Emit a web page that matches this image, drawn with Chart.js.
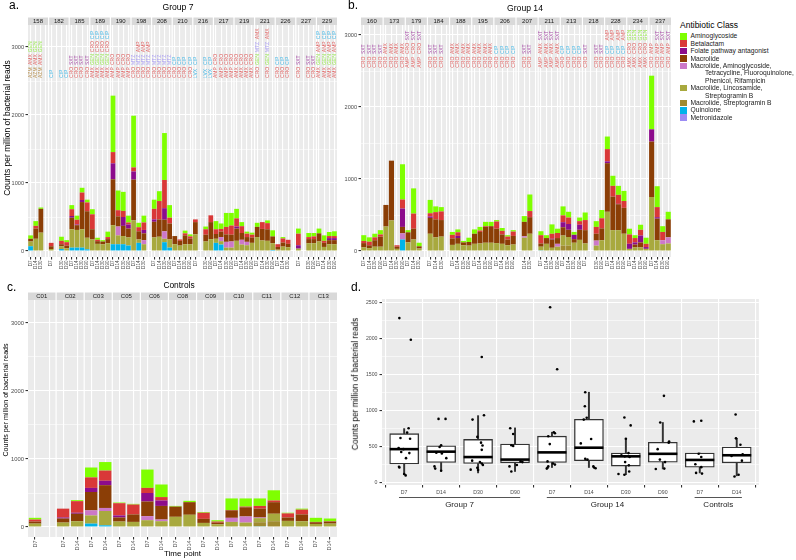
<!DOCTYPE html>
<html>
<head>
<meta charset="utf-8">
<script src="https://cdn.jsdelivr.net/npm/chart.js@4.4.1/dist/chart.umd.min.js"></script>
<style>
body{margin:0;background:#fff;font-family:"Liberation Sans",Arial,sans-serif;}
#wrap{position:relative;width:796px;height:560px;overflow:hidden;}
canvas{position:absolute;}
.t{position:absolute;white-space:nowrap;color:#000;line-height:1;}
.c{transform:translate(-50%,-50%);}
.r{transform:translate(-50%,-50%) rotate(-90deg);}
.lm{transform:translateY(-50%);color:#1a1a1a;}
.key{position:absolute;width:6.5px;height:6.5px;}
</style>
</head>
<body>
<div id="wrap">
  <canvas id="ca" width="342" height="275" style="left:0;top:0"></canvas>
  <canvas id="cb" width="341" height="275" style="left:335px;top:0"></canvas>
  <canvas id="cc" width="342" height="285" style="left:0;top:275px"></canvas>
  <canvas id="cd" width="429" height="238" style="left:347px;top:275px"></canvas>

  <div class="t" style="left:9px;top:-1px;font-size:12px">a.</div>
  <div class="t" style="left:348px;top:-1px;font-size:12px">b.</div>
  <div class="t" style="left:7px;top:281px;font-size:12px">c.</div>
  <div class="t" style="left:351px;top:281px;font-size:12px">d.</div>

  <div class="t c" style="left:178px;top:7px;font-size:8.6px">Group 7</div>
  <div class="t c" style="left:525px;top:8px;font-size:8.6px">Group 14</div>
  <div class="t c" style="left:179px;top:285px;font-size:8.4px">Controls</div>

  <div class="t r" style="left:7px;top:128px;font-size:8.5px">Counts per million of bacterial reads</div>
  <div class="t r" style="left:7px;top:400px;font-size:7.1px">Counts per million of bacterial reads</div>
  <div class="t r" style="left:355px;top:384px;font-size:8.3px">Counts per million of bacterial reads</div>

  <div class="t lm" style="left:680px;top:24.5px;font-size:8.5px;color:#000">Antibiotic Class</div>
  <div id="legend"></div>
</div>
<script>
Chart.defaults.font.family = '"Liberation Sans", Arial, sans-serif';

// antibiotic classes, legend order (top of each stack first)
const classKeys = ['ag', 'bl', 'fol', 'mac', 'mat', 'mlsb', 'msb', 'qui', 'mtz'];
const classNames = ['Aminoglycoside', 'Betalactam', 'Folate pathway antagonist', 'Macrolide',
  'Macrolide, Aminoglycoside,\nTetracycline, Fluoroquinolone,\nPhenicol, Rifampicin',
  'Macrolide, Lincosamide,\nStreptogramin B', 'Macrolide, Streptogramin B', 'Quinolone', 'Metronidazole'];
const classColors = ['#7fff00', '#d93838', '#8c0c8c', '#8b3e06', '#cc78c8', '#a8a93e', '#a08a30', '#00b4ea', '#9b8cf4'];
const noteColors = { bl: '#e06666', ag: '#95e84a', fol: '#a64ca6', qui: '#45b8e6', mtz: '#a89cf2', msb: '#b89050' };

const timepoints = ['D7', 'D14', 'D30', 'D90'];
const ctrlTimepoints = ['D7', 'D14'];

// ---------- a. Group 7 (per subject: D7, D14, D30, D90) ----------
const aSubjects = ['158','182','185','189','190','198','208','210','216','217','219','221','226','227','229'];
const aAmino  = [[50,70,20,0],[0,0,60,30],[60,60,70,40],[75,30,20,80],[830,290,280,100],[760,65,100,0],[135,145,690,185],[0,0,40,30],[0,0,40,0],[120,80,205,185],[140,60,30,30],[60,0,40,90],[0,20,0,0],[75,0,60,50],[70,80,60,70]];
const aBeta   = [[0,40,0,0],[50,0,50,50],[100,70,110,130],[220,20,0,30],[165,90,90,30],[60,60,110,0],[155,270,415,85],[0,20,30,30],[40,0,80,100],[70,40,110,135],[120,100,50,40],[0,100,90,0],[40,60,60,0],[170,0,30,40],[0,30,30,30]];
const aFolate = [[0,0,0,0],[0,0,0,0],[25,10,30,0],[0,0,0,0],[235,0,130,60],[120,0,50,0],[35,0,170,0],[0,0,0,0],[0,0,0,0],[0,0,0,0],[30,0,0,0],[0,0,0,0],[0,0,0,0],[50,0,0,0],[0,0,30,30]];
const aMacro  = [[40,150,350,0],[40,0,30,40],[170,70,400,390],[150,40,40,60],[675,150,150,130],[600,120,100,0],[230,255,170,235],[120,70,130,85],[180,0,100,250],[70,80,110,100],[180,100,70,80],[150,170,170,100],[40,60,50,0],[0,0,60,60],[120,60,60,60]];
const aMulti  = [[0,0,0,0],[0,0,0,0],[0,0,0,0],[0,0,0,0],[0,130,0,0],[0,0,60,0],[0,0,110,0],[0,0,0,0],[0,0,0,0],[0,60,85,90],[0,70,50,0],[0,0,0,0],[0,0,0,0],[0,0,0,0],[0,0,0,0]];
const aMlsb   = [[70,180,270,0],[30,0,40,40],[270,260,270,170],[170,105,100,115],[280,130,120,120],[450,50,100,0],[200,210,50,120],[100,80,100,100],[245,0,140,175],[60,50,50,50],[150,95,85,120],[205,155,150,100],[20,65,55,0],[35,0,115,115],[140,60,100,100]];
const aQuin   = [[70,0,0,0],[0,0,30,0],[50,50,50,25],[0,0,0,0],[100,100,100,80],[0,120,0,0],[0,0,130,50],[0,0,0,0],[0,0,0,0],[120,95,0,0],[0,0,0,0],[0,0,0,15],[0,0,0,0],[0,0,0,0],[0,0,0,0]];
// antibiotics given: [subject, drug, class, samples]
const aNotes = [
  ['158','AZM','msb',[0,1,2]], ['158','AMX','bl',[0,1,2]], ['158','GEN','ag',[0,1,2]],
  ['182','CIP','qui',[0,2,3]],
  ['185','CRO','bl',[0,1,2,3]], ['185','SXT','fol',[0,1,2,3]],
  ['189','AMX','bl',[0,1,2,3]], ['189','GEN','ag',[0,1,2,3]], ['189','CRO','bl',[0,1,2,3]], ['189','CIP','qui',[0,1,2,3]],
  ['190','AMP','bl',[0,1,2,3]], ['190','CRO','bl',[0,1,2,3]],
  ['198','CRO','bl',[0,1,2,3]], ['198','MTZ','mtz',[0,1,2,3]], ['198','AMP','bl',[1,2,3]],
  ['208','CRO','bl',[0,1,2,3]], ['208','MTZ','mtz',[0,1,2,3]],
  ['210','CRO','bl',[0,1,2,3]], ['210','CIP','qui',[0,1,2,3]],
  ['216','LVX','qui',[0,2,3]], ['216','CIP','qui',[0,2,3]],
  ['217','AMP','bl',[0,1,2,3]], ['217','CRO','bl',[0,1,2,3]],
  ['219','AMX','bl',[0,1,2,3]], ['219','CRO','bl',[0,1,2,3]],
  ['221','CRO','bl',[0,2]], ['221','GEN','ag',[0,2]], ['221','MTZ','mtz',[0,2]], ['221','AMX','bl',[0,2]],
  ['226','CRO','bl',[0,1,2]], ['226','CIP','qui',[0,1,2]],
  ['227','CRO','bl',[0,2,3]], ['227','SXT','fol',[0,2,3]],
  ['229','AMX','bl',[0,1,2,3]], ['229','GEN','ag',[0,1,2,3]], ['229','AMP','bl',[0,1,2,3]], ['229','CIP','qui',[0,1,2,3]]
];

// ---------- b. Group 14 ----------
const bSubjects = ['160','173','179','184','188','195','206','207','211','213','218','228','234','237'];
const bAmino  = [[80,60,50,60],[0,0,0,490],[30,350,50,0],[185,80,60,0],[40,40,20,60],[60,50,60,60],[20,40,20,20],[0,80,230,0],[55,40,130,60],[125,80,40,50],[105,0,80,115],[175,140,125,140],[80,40,70,85],[745,290,80,105]];
const bBeta   = [[30,50,40,30],[0,0,20,125],[0,210,0,0],[45,100,120,0],[50,50,0,0],[0,20,10,0],[100,50,40,60],[0,0,85,0],[115,0,70,70],[95,90,0,50],[140,0,95,140],[170,150,125,95],[130,60,80,45],[0,140,115,0]];
const bFolate = [[0,0,0,0],[0,0,0,255],[0,0,0,0],[20,0,0,0],[0,30,0,0],[0,0,0,0],[0,0,0,0],[0,0,0,0],[0,0,10,0],[70,80,60,70],[0,0,0,0],[25,0,5,0],[70,30,95,25],[170,20,0,0]];
const bMacro  = [[60,40,90,140],[300,830,30,90],[140,150,30,0],[220,250,230,0],[90,80,40,50],[140,160,220,230],[200,130,80,120],[0,200,230,0],[45,80,115,80],[115,100,50,140],[185,0,95,165],[675,465,360,360],[0,40,70,0],[770,300,0,250]];
const bMulti  = [[0,0,0,0],[0,0,0,85],[0,0,0,0],[0,0,0,0],[0,0,0,0],[0,0,0,0],[0,0,0,0],[0,20,0,0],[0,0,0,40],[0,0,0,0],[0,0,70,0],[0,0,0,0],[0,0,0,0],[0,0,55,85]];
const bMlsb   = [[50,40,60,60],[340,425,30,0],[120,160,35,0],[240,190,200,0],[85,100,80,75],[100,105,115,115],[110,100,80,90],[0,185,240,0],[50,100,45,60],[140,120,115,155],[105,0,75,150],[545,290,290,240],[30,50,50,30],[750,150,95,105]];
const bMsb    = [[0,0,0,0],[0,0,0,0],[0,0,0,0],[0,0,0,0],[0,0,0,0],[0,0,0,0],[0,0,0,0],[0,0,0,0],[0,0,0,0],[75,75,0,0],[0,0,0,0],[0,0,0,0],[0,0,0,0],[0,0,0,0]];
const bQuin   = [[0,0,0,0],[0,0,0,160],[0,0,0,0],[0,0,0,0],[0,0,0,0],[0,0,0,0],[0,0,0,0],[0,0,0,0],[10,0,0,0],[0,0,0,0],[0,0,0,0],[0,0,0,0],[0,0,0,0],[0,0,0,0]];
const bNotes = [
  ['160','CRO','bl',[0,1,2,3]], ['160','SXT','fol',[0,1,2,3]],
  ['173','CRO','bl',[0,1,2,3]], ['173','AMX','bl',[0,1,2,3]],
  ['179','AMP','bl',[0,1,2]], ['179','CRO','bl',[0,1,2]], ['179','SXT','fol',[0,1,2]],
  ['184','CRO','bl',[0,1,2]], ['184','SXT','fol',[0,1,2]],
  ['188','CRO','bl',[0,1,2,3]], ['188','AMX','bl',[0,1,2,3]],
  ['195','CRO','bl',[0,1,2,3]], ['195','AMX','bl',[0,1,2,3]],
  ['206','CRO','bl',[0,1,2,3]], ['206','CIP','qui',[0,1,2,3]],
  ['207','CRO','bl',[1,2]], ['207','SXT','fol',[1,2]],
  ['211','AMP','bl',[0,1,2,3]], ['211','AMX','bl',[0,1,2,3]], ['211','SXT','fol',[0,1,2,3]],
  ['213','CRO','bl',[0,1,2,3]], ['213','CIP','qui',[0,1,2,3]],
  ['218','CRO','bl',[0,2,3]], ['218','SXT','fol',[0,2,3]],
  ['228','CRO','bl',[0,1,2,3]], ['228','CIP','qui',[0,1,2,3]], ['228','AMP','bl',[0,1,2,3]],
  ['234','AMX','bl',[0,1,2,3]], ['234','CRO','bl',[0,1,2,3]], ['234','GEN','ag',[0,1,2,3]],
  ['237','CRO','bl',[0,1,2,3]], ['237','AMP','bl',[0,1,2,3]], ['237','SXT','fol',[1,2,3]]
];

// ---------- c. Controls (D7, D14) ----------
const cSubjects = ['C01','C02','C03','C05','C06','C08','C09','C10','C11','C12','C13'];
const cAmino  = [[25,0],[0,15],[145,125],[10,10],[270,185],[10,20],[10,20],[170,120],[110,150],[10,15],[60,40]];
const cBeta   = [[30,0],[130,170],[155,150],[180,145],[75,50],[0,0],[90,15],[5,10],[40,25],[60,70],[5,5]];
const cFolate = [[0,0],[15,15],[60,65],[30,0],[125,80],[0,0],[0,0],[0,0],[0,0],[0,0],[0,0]];
const cMacro  = [[30,0],[60,110],[270,335],[60,110],[215,200],[150,185],[60,25],[110,135],[130,170],[50,100],[25,30]];
const cMulti  = [[0,0],[0,0],[75,45],[0,0],[60,25],[0,0],[0,0],[60,90],[10,0],[0,0],[0,0]];
const cMlsb   = [[50,0],[65,85],[120,210],[80,75],[100,85],[150,180],[60,40],[75,65],[60,110],[90,85],[45,50]];
const cMsb    = [[0,0],[0,0],[0,0],[0,0],[0,0],[0,0],[0,0],[0,0],[60,85],[0,0],[0,0]];
const cQuin   = [[0,0],[0,0],[50,25],[0,0],[0,0],[0,0],[0,0],[0,0],[10,0],[0,0],[0,0]];

// ---------- d. box plots of totals ----------
const dTimes  = ['D7','D14','D30','D90','D7','D14','D30','D90','D7','D14'];
const dGroups = ['Group 7', 'Group 14', 'Controls'];
const dGroupSizes = [4, 4, 2];
const dLower  = [115, 175, 140, 160, 215, 215, 115, 195, 140, 100];
const dQ1     = [265, 285, 270, 280, 285, 310, 235, 290, 220, 280];
const dMedian = [470, 435, 360, 325, 425, 490, 370, 405, 320, 385];
const dQ3     = [685, 515, 605, 540, 650, 885, 415, 565, 415, 500];
const dUpper  = [755, 515, 935, 765, 705, 1260, 615, 840, 415, 620];
// [jitter, value] per subject
const dPoints = [
  [[-0.13,2290],[0.18,1990],[0.12,760],[0.08,700],[-0.1,625],[0.16,615],[-0.15,485],[-0.02,470],[-0.08,430],[0.14,415],[0.05,345],[-0.14,225],[-0.13,215],[0.0,125],[0.04,105]],
  [[-0.07,890],[0.12,890],[0.0,525],[-0.04,500],[-0.13,420],[0.02,410],[0.14,345],[-0.18,230],[-0.16,200],[0.0,170]],
  [[0.1,1750],[0.16,940],[-0.15,880],[-0.02,640],[0.08,560],[0.12,520],[0.1,460],[-0.16,310],[0.05,290],[0.1,270],[0.13,250],[-0.02,210],[-0.2,185],[0.0,180]],
  [[-0.13,760],[-0.05,680],[-0.1,525],[-0.05,515],[0.15,300],[0.2,290],[0.05,250],[-0.15,230],[-0.1,160]],
  [[-0.05,2440],[0.14,1580],[0.05,705],[0.08,690],[-0.1,650],[-0.06,540],[-0.12,300],[0.03,270],[0.08,255],[-0.1,230],[-0.12,210],[-0.14,200]],
  [[-0.1,1260],[-0.11,1065],[-0.06,905],[-0.14,880],[0.06,610],[-0.22,550],[-0.1,335],[-0.04,325],[0.12,230],[0.14,215],[0.18,205]],
  [[-0.04,910],[0.13,800],[0.0,615],[0.07,415],[-0.12,385],[-0.03,370],[0.1,360],[-0.02,290],[0.08,245],[-0.2,125],[-0.04,115],[0.09,160]],
  [[0.03,1210],[-0.07,840],[0.17,575],[0.16,560],[-0.14,470],[-0.08,325],[0.06,290],[-0.19,195],[0.04,200]],
  [[-0.16,855],[0.04,865],[-0.03,405],[0.04,360],[-0.12,260],[0.04,220],[-0.1,140],[0.06,130]],
  [[-0.03,950],[-0.02,620],[0.1,530],[0.16,400],[-0.14,375],[0.14,310],[-0.06,90],[0.05,115]]
];

const noteBase = 2545, noteStep = 190;
const clear = 'rgba(0,0,0,0)';

// grey facet panels + strips
function facetPlugin(names, per) {
  return {
    id: 'facets',
    beforeDraw(chart) {
      const { ctx, chartArea: ca, scales: { x } } = chart;
      const w = x.getPixelForValue(1) - x.getPixelForValue(0);
      ctx.save();
      names.forEach((name, f) => {
        const l = f === 0 ? ca.left : x.getPixelForValue(f * per) - w / 2 + 0.6;
        const r = f === names.length - 1 ? ca.right : x.getPixelForValue(f * per + per - 1) + w / 2 - 0.6;
        ctx.fillStyle = '#ebebeb';
        ctx.fillRect(l, ca.top, r - l, ca.bottom - ca.top);
        ctx.fillStyle = '#d9d9d9';
        ctx.fillRect(l, ca.top - 7.5, r - l, 7.5);
        ctx.fillStyle = '#1a1a1a';
        ctx.font = '6px "Liberation Sans", Arial';
        ctx.textAlign = 'center';
        ctx.textBaseline = 'middle';
        ctx.fillText(name, (l + r) / 2, ca.top - 3.5);
      });
      ctx.restore();
    }
  };
}

// rotated drug codes above the bars
function notePlugin(names, per, notes) {
  return {
    id: 'notes',
    afterDatasetsDraw(chart) {
      const { ctx, scales: { x, y } } = chart;
      const rows = {};
      ctx.save();
      ctx.font = '5px "Liberation Sans", Arial';
      ctx.textAlign = 'left';
      ctx.textBaseline = 'middle';
      notes.forEach(([subj, code, key, slots]) => {
        const f = names.indexOf(subj);
        rows[subj] = (rows[subj] === undefined ? -1 : rows[subj]) + 1;
        const py = y.getPixelForValue(noteBase + rows[subj] * noteStep);
        ctx.fillStyle = noteColors[key];
        slots.forEach(s => {
          const px = x.getPixelForValue(f * per + s);
          ctx.save();
          ctx.translate(px, py);
          ctx.rotate(-Math.PI / 2);
          ctx.fillText(code, 0, 0);
          ctx.restore();
        });
      });
      ctx.restore();
    }
  };
}

function stackedChart(id, subjects, times, series, cfg) {
  const per = times.length;
  const n = subjects.length * per;
  const totals = new Array(n).fill(0);
  classKeys.forEach(k => { if (series[k]) series[k].flat().forEach((v, i) => { totals[i] += v; }); });
  const labels = totals.map((t, i) => t > 0 ? times[i % per] : '');
  const datasets = classKeys.slice().reverse().filter(k => series[k]).map(k => {
    const ci = classKeys.indexOf(k);
    return {
      label: classNames[ci],
      data: series[k].flat().map(v => v || null),
      backgroundColor: classColors[ci],
      barPercentage: cfg.barPct,
      categoryPercentage: 1
    };
  });
  const yBreaks = [0, 500, 1000, 1500, 2000, 2500, 3000];
  return new Chart(document.getElementById(id), {
    type: 'bar',
    data: { labels, datasets },
    options: {
      responsive: false, animation: false, devicePixelRatio: 1, events: [],
      layout: { padding: { top: 25, right: 5, left: 0, bottom: 0 } },
      plugins: { legend: { display: false }, tooltip: { enabled: false } },
      scales: {
        x: {
          stacked: true,
          grid: { offset: false, color: '#fff', lineWidth: 1.1, tickLength: 2.5,
                  tickColor: c => labels[c.index] ? '#333' : clear },
          border: { display: false },
          ticks: { autoSkip: false, maxRotation: 90, minRotation: 90, padding: 1,
                   color: '#4d4d4d', font: { size: cfg.xFont } },
          title: cfg.xTitle ? { display: true, text: cfg.xTitle, color: '#000',
                   font: { size: 8 }, padding: { top: 0, bottom: 1 } } : { display: false },
          afterFit: s => { s.height = cfg.xHeight; }
        },
        y: {
          stacked: true, min: cfg.yMin, max: cfg.yMax,
          afterBuildTicks: s => { s.ticks = yBreaks.map(v => ({ value: v })); },
          grid: { color: '#fff', tickLength: 2.5,
                  lineWidth: c => c.tick && c.tick.value % 1000 === 0 ? 1.1 : 0.55,
                  tickColor: c => c.tick && c.tick.value % 1000 === 0 ? '#333' : clear },
          border: { display: false },
          ticks: { callback: v => v % 1000 === 0 ? String(v) : '', padding: 1.5,
                   color: '#4d4d4d', font: { size: cfg.yFont } },
          afterFit: s => { s.width = cfg.yWidth; }
        }
      }
    },
    plugins: [facetPlugin(subjects, per), notePlugin(subjects, per, cfg.notes || [])]
  });
}

stackedChart('ca', aSubjects, timepoints,
  { ag: aAmino, bl: aBeta, fol: aFolate, mac: aMacro, mat: aMulti, mlsb: aMlsb, qui: aQuin },
  { yMin: -88, yMax: 3324, yWidth: 28, xHeight: 18, xFont: 4.6, yFont: 5.6, barPct: 0.92, notes: aNotes });

stackedChart('cb', bSubjects, timepoints,
  { ag: bAmino, bl: bBeta, fol: bFolate, mac: bMacro, mat: bMulti, mlsb: bMlsb, msb: bMsb, qui: bQuin },
  { yMin: -83, yMax: 3139, yWidth: 26, xHeight: 18, xFont: 4.6, yFont: 5.6, barPct: 0.92, notes: bNotes });

stackedChart('cc', cSubjects, ctrlTimepoints,
  { ag: cAmino, bl: cBeta, fol: cFolate, mac: cMacro, mat: cMulti, mlsb: cMlsb, msb: cMsb, qui: cQuin },
  { yMin: -147, yMax: 3338, yWidth: 28, xHeight: 23, xFont: 5.5, yFont: 5.8, barPct: 0.88, xTitle: 'Time point' });

// ---------- d ----------
const boxBg = {
  id: 'boxBg',
  beforeDraw(chart) {
    const { ctx, chartArea: ca } = chart;
    ctx.save();
    ctx.fillStyle = '#ebebeb';
    ctx.fillRect(ca.left, ca.top, ca.right - ca.left, ca.bottom - ca.top);
    ctx.restore();
  }
};
const groupLabels = {
  id: 'groupLabels',
  afterDraw(chart) {
    const { ctx, chartArea: ca, scales: { x } } = chart;
    ctx.save();
    let start = 0;
    dGroups.forEach((name, g) => {
      const end = start + dGroupSizes[g] - 1;
      const l = x.getPixelForValue(start - 0.14), r = x.getPixelForValue(end + 0.14);
      ctx.strokeStyle = '#555';
      ctx.lineWidth = 1;
      ctx.beginPath();
      ctx.moveTo(l, ca.bottom + 12.5);
      ctx.lineTo(r, ca.bottom + 12.5);
      ctx.stroke();
      ctx.fillStyle = '#1a1a1a';
      ctx.font = '8px "Liberation Sans", Arial';
      ctx.textAlign = 'center';
      ctx.textBaseline = 'middle';
      ctx.fillText(name, (l + r) / 2, ca.bottom + 20);
      start = end + 1;
    });
    ctx.restore();
  }
};

const boxData = dQ1.map((q, i) => ({ x: i, y: [q, dQ3[i]] }));
const whiskerData = dLower.map((lo, i) => ({ x: i, y: [lo, dQ1[i]] }))
  .concat(dUpper.map((hi, i) => ({ x: i, y: [dQ3[i], hi] })));
const medianData = dMedian.map((m, i) => ({ x: i, y: m }));
const pointData = dPoints.flatMap((pts, i) => pts.map(([dx, v]) => ({ x: i + dx, y: v })));

new Chart(document.getElementById('cd'), {
  type: 'bar',
  data: {
    datasets: [
      { type: 'scatter', data: pointData, pointRadius: 1.3, pointBackgroundColor: '#000', pointBorderWidth: 0 },
      { type: 'scatter', data: medianData, pointStyle: 'line', pointRadius: 14.5, pointBorderColor: '#000', pointBorderWidth: 2.6 },
      { data: boxData, backgroundColor: '#fff', borderColor: '#333', borderWidth: 1.3, borderSkipped: false, barThickness: 29, grouped: false },
      { data: whiskerData, backgroundColor: '#333', barThickness: 1.3, grouped: false }
    ]
  },
  options: {
    responsive: false, animation: false, devicePixelRatio: 1, events: [],
    layout: { padding: { top: 24, right: 10, left: 0, bottom: 0 } },
    plugins: { legend: { display: false }, tooltip: { enabled: false } },
    scales: {
      x: {
        type: 'linear', min: -0.6, max: 9.6, offset: false,
        afterBuildTicks: s => { s.ticks = dTimes.map((t, i) => ({ value: i })); },
        grid: { color: '#fff', lineWidth: 1.1, tickColor: '#333', tickLength: 2.5 },
        border: { display: false },
        ticks: { callback: (v, i) => dTimes[i], autoSkip: false, maxRotation: 0,
                 padding: 2, color: '#4d4d4d', font: { size: 5.2 } },
        afterFit: s => { s.height = 28; }
      },
      y: {
        min: -28, max: 2555,
        afterBuildTicks: s => { s.ticks = []; for (let v = 0; v <= 2500; v += 250) s.ticks.push({ value: v }); },
        grid: { color: '#fff', tickLength: 2.5,
                lineWidth: c => c.tick && c.tick.value % 500 === 0 ? 1.1 : 0.55,
                tickColor: c => c.tick && c.tick.value % 500 === 0 ? '#333' : clear },
        border: { display: false },
        ticks: { callback: v => v % 500 === 0 ? String(v) : '', padding: 2,
                 color: '#4d4d4d', font: { size: 5.2 } },
        afterFit: s => { s.width = 35; }
      }
    }
  },
  plugins: [boxBg, groupLabels]
});

// legend
const legend = document.getElementById('legend');
let ly = 36.3;
classNames.forEach((name, i) => {
  const key = document.createElement('div');
  key.className = 'key';
  key.style.left = '680px';
  key.style.top = (ly - 3.25) + 'px';
  key.style.background = classColors[i];
  legend.appendChild(key);
  name.split('\n').forEach((line, j) => {
    const d = document.createElement('div');
    d.className = 't lm';
    d.style.left = (j ? 705 : 690.5) + 'px';
    d.style.top = ly + 'px';
    d.style.fontSize = '6.7px';
    d.textContent = line;
    legend.appendChild(d);
    ly += 7.4;
  });
});
</script>
</body>
</html>
